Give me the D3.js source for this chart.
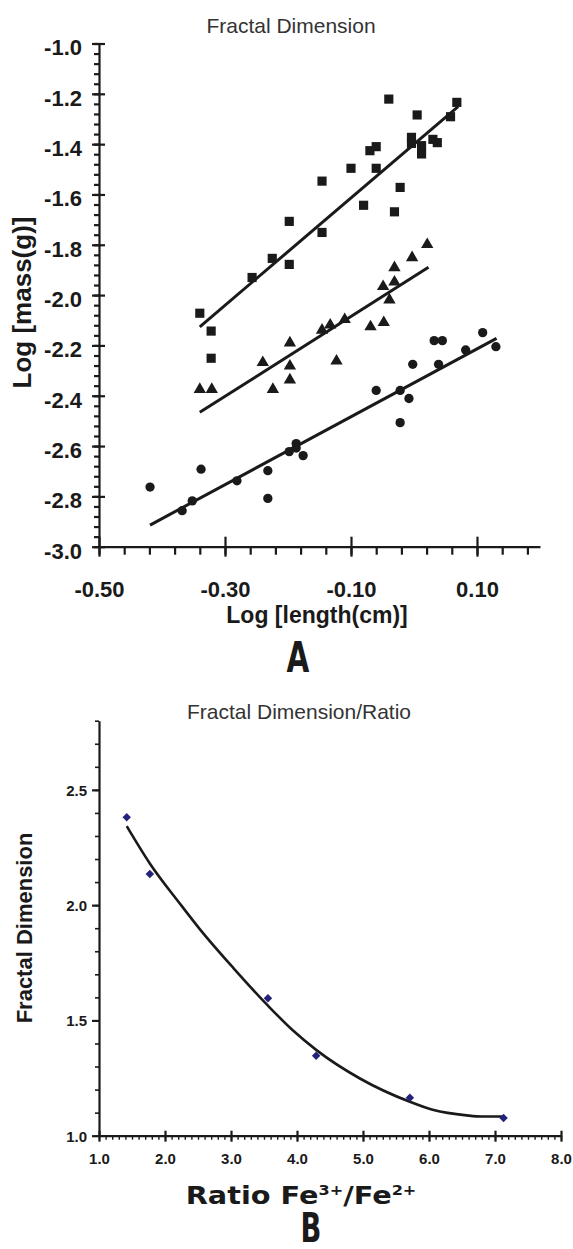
<!DOCTYPE html>
<html>
<head>
<meta charset="utf-8">
<script src="https://cdn.jsdelivr.net/npm/d3@7"></script>
<style>
  body { margin: 0; background: #fff; }
  text { font-family: "Liberation Sans", Arial, sans-serif; }
</style>
</head>
<body>
<script>
// ---- panel A data: log length (cm) vs log mass (g)
const sqX = [-0.040, 0.005, 0.068, 0.058, -0.004, -0.004, 0.012, 0.012, 0.030, 0.037,
             -0.070, -0.060, -0.100, -0.060, -0.146, -0.022, -0.080, -0.031, -0.198, -0.146,
             -0.225, -0.198, -0.257, -0.340, -0.322, -0.322];
const sqY = [-1.221, -1.284, -1.234, -1.291, -1.373, -1.397, -1.406, -1.439, -1.381, -1.394,
             -1.426, -1.410, -1.496, -1.496, -1.547, -1.572, -1.643, -1.669, -1.707, -1.751,
             -1.854, -1.878, -1.930, -2.072, -2.143, -2.251];

const triX = [0.021, -0.003, -0.031, -0.049, -0.031, -0.039, -0.069, -0.048, -0.110, -0.133,
              -0.146, -0.197, -0.240, -0.197, -0.123, -0.197, -0.224, -0.340, -0.321];
const triY = [-1.799, -1.851, -1.891, -1.966, -1.948, -2.019, -2.126, -2.109, -2.097, -2.119,
              -2.139, -2.190, -2.268, -2.282, -2.262, -2.337, -2.375, -2.375, -2.375];

const cirX = [0.109, 0.130, 0.082, 0.032, 0.045, 0.039, -0.002, -0.060, -0.022, -0.008,
              -0.022, -0.187, -0.187, -0.198, -0.176, -0.232, -0.232, -0.281, -0.338, -0.419,
              -0.352, -0.368];
const cirY = [-2.149, -2.205, -2.218, -2.181, -2.181, -2.275, -2.275, -2.379, -2.379, -2.411,
              -2.507, -2.590, -2.608, -2.622, -2.638, -2.698, -2.808, -2.738, -2.692, -2.763,
              -2.818, -2.857];

// fitted lines, end points
const sqFitX = [-0.340, 0.070], sqFitY = [-2.126, -1.251];
const triFitX = [-0.340, 0.023], triFitY = [-2.466, -1.889];
const cirFitX = [-0.419, 0.131], cirFitY = [-2.914, -2.172];

const xTicksA = [-0.50, -0.30, -0.10, 0.10];
const yTicksA = [-1.0, -1.2, -1.4, -1.6, -1.8, -2.0, -2.2, -2.4, -2.6, -2.8, -3.0];

// ---- panel B data: Fe3+/Fe2+ ratio vs fractal dimension
const ratio = [1.42, 1.77, 3.56, 4.29, 5.71, 7.13];
const fracDim = [2.381, 2.135, 1.596, 1.347, 1.165, 1.077];
const trendX = [1.42, 1.77, 2.23, 2.53, 3.04, 3.56, 3.94, 4.30, 4.96, 5.71, 6.07, 6.57, 6.80, 7.13];
const trendY = [2.343, 2.181, 2.005, 1.895, 1.726, 1.564, 1.456, 1.370, 1.247, 1.147, 1.111, 1.088, 1.083, 1.083];

const xTicksB = [1, 2, 3, 4, 5, 6, 7, 8];
const yTicksB = [1.0, 1.5, 2.0, 2.5];

const w = 573, h = 1249;
const ink = "#1a1a1a";
// plain hyphen instead of the unicode minus d3 uses
const fmt = p => d => d3.format(p)(d).replace("\u2212", "-");

const svg = d3.select("body")
              .append("svg")
              .attr("width", w)
              .attr("height", h)
              .style("background", "#fff");

// ================= panel A =================
const xA = d3.scaleLinear().domain([-0.5, 0.2]).range([99, 540]);
const yA = d3.scaleLinear().domain([-3.0, -1.0]).range([546.7, 43.5]);

// minor ticks first, majors on top
svg.append("g")
   .attr("transform", "translate(" + xA(-0.5) + ",0)")
   .call(d3.axisLeft(yA).tickValues(d3.range(0, 51).map(i => -3 + i * 0.04)).tickSize(5).tickFormat(""))
   .call(g => g.select(".domain").remove());

const yAxisA = svg.append("g")
   .attr("transform", "translate(" + xA(-0.5) + ",0)")
   .call(d3.axisLeft(yA).tickValues(yTicksA).tickSize(7).tickSizeOuter(0).tickFormat(fmt(".1f")));
yAxisA.selectAll(".tick line").attr("x2", -7).attr("x1", 6);
yAxisA.selectAll(".tick text")
      .attr("x", -17)
      .attr("dy", "0.52em")
      .style("font-size", "22px")
      .style("font-weight", "bold");

svg.append("g")
   .attr("transform", "translate(0," + yA(-3.0) + ")")
   .call(d3.axisBottom(xA).tickValues(d3.range(0, 18).map(i => -0.5 + i * 0.04)).tickSize(8).tickFormat(""))
   .call(g => g.select(".domain").remove());

const xAxisA = svg.append("g")
   .attr("transform", "translate(0," + yA(-3.0) + ")")
   .call(d3.axisBottom(xA).tickValues(xTicksA).tickSize(10).tickSizeOuter(0).tickFormat(fmt(".2f")));
xAxisA.selectAll(".tick line").attr("y1", -10);
xAxisA.selectAll(".tick text")
      .attr("y", 50)
      .attr("dy", null)
      .style("font-size", "22px")
      .style("font-weight", "bold");

svg.selectAll(".domain, .tick line").attr("stroke", ink).attr("stroke-width", 2.2);
svg.selectAll(".tick text").attr("fill", ink).style("font-family", "Liberation Sans, Arial, sans-serif");

// fit lines
const lineA = d3.line().x(d => xA(d[0])).y(d => yA(d[1]));
[[sqFitX, sqFitY], [triFitX, triFitY], [cirFitX, cirFitY]].forEach(f => {
  svg.append("path")
     .datum(d3.zip(f[0], f[1]))
     .attr("d", lineA)
     .attr("fill", "none")
     .attr("stroke", ink)
     .attr("stroke-width", 3);
});

// markers
const series = [
  { x: sqX, y: sqY, type: d3.symbolSquare, size: 84 },
  { x: triX, y: triY, type: d3.symbolTriangle, size: 66 },
  { x: cirX, y: cirY, type: d3.symbolCircle, size: 68 }
];
series.forEach(s => {
  svg.append("g")
     .selectAll("path")
     .data(d3.zip(s.x, s.y))
     .enter()
     .append("path")
     .attr("d", d3.symbol().type(s.type).size(s.size))
     .attr("transform", d => "translate(" + xA(d[0]) + "," + yA(d[1]) + ")")
     .attr("fill", ink);
});

svg.append("text")
   .attr("x", 291)
   .attr("y", 33)
   .attr("text-anchor", "middle")
   .style("font-size", "21px")
   .attr("fill", "#333")
   .text("Fractal Dimension");

svg.append("text")
   .attr("transform", "translate(31,302.5) rotate(-90)")
   .attr("text-anchor", "middle")
   .style("font-size", "26px")
   .style("font-weight", "bold")
   .attr("fill", ink)
   .text("Log [mass(g)]");

svg.append("text")
   .attr("x", 317)
   .attr("y", 623)
   .attr("text-anchor", "middle")
   .style("font-size", "23px")
   .style("font-weight", "bold")
   .attr("fill", ink)
   .text("Log [length(cm)]");

svg.append("text")
   .attr("transform", "translate(298,672) scale(0.78,1)")
   .attr("text-anchor", "middle")
   .style("font-family", "'Liberation Sans Narrow', 'DejaVu Sans Condensed', sans-serif")
   .style("font-size", "42px")
   .style("font-weight", "bold")
   .attr("fill", ink)
   .text("A");

// ================= panel B =================
const xB = d3.scaleLinear().domain([1, 8]).range([99, 561]);
const yB = d3.scaleLinear().domain([1.0, 2.8]).range([1135.7, 720.7]);

svg.append("g")
   .attr("transform", "translate(" + xB(1) + ",0)")
   .call(d3.axisLeft(yB).tickValues(d3.range(0, 19).map(i => 1 + i * 0.1)).tickSize(4).tickFormat(""))
   .call(g => g.select(".domain").remove())
   .call(g => g.selectAll("line").attr("stroke", ink).attr("stroke-width", 1.6));

const yAxisB = svg.append("g")
   .attr("transform", "translate(" + xB(1) + ",0)")
   .call(d3.axisLeft(yB).tickValues(yTicksB).tickSize(7).tickSizeOuter(0).tickFormat(fmt(".1f")));
yAxisB.selectAll(".tick text")
      .attr("x", -12)
      .attr("dy", "0.36em")
      .style("font-size", "15px")
      .style("font-weight", "bold");

svg.append("g")
   .attr("transform", "translate(0," + yB(1.0) + ")")
   .call(d3.axisBottom(xB).tickValues(d3.range(0, 71).map(i => 1 + i * 0.1)).tickSize(4).tickFormat(""))
   .call(g => g.select(".domain").remove())
   .call(g => g.selectAll("line").attr("stroke", ink).attr("stroke-width", 1.4));

const xAxisB = svg.append("g")
   .attr("transform", "translate(0," + yB(1.0) + ")")
   .call(d3.axisBottom(xB).tickValues(xTicksB).tickSize(6).tickSizeOuter(0).tickFormat(fmt(".1f")));
xAxisB.selectAll(".tick line").attr("y1", -5);
xAxisB.selectAll(".tick text")
      .attr("y", 18)
      .style("font-size", "15px")
      .style("font-weight", "bold");

[yAxisB, xAxisB].forEach(a => {
  a.selectAll(".domain, .tick line").attr("stroke", ink).attr("stroke-width", 2.2);
  a.selectAll(".tick text").attr("fill", ink).style("font-family", "Liberation Sans, Arial, sans-serif");
});

svg.append("path")
   .datum(d3.zip(trendX, trendY))
   .attr("d", d3.line().x(d => xB(d[0])).y(d => yB(d[1])).curve(d3.curveMonotoneX))
   .attr("fill", "none")
   .attr("stroke", ink)
   .attr("stroke-width", 2.6);

svg.append("g")
   .selectAll("path")
   .data(d3.zip(ratio, fracDim))
   .enter()
   .append("path")
   .attr("d", d3.symbol().type(d3.symbolSquare).size(36))
   .attr("transform", d => "translate(" + xB(d[0]) + "," + yB(d[1]) + ") rotate(45)")
   .attr("fill", "#23237c");

svg.append("text")
   .attr("x", 299)
   .attr("y", 719)
   .attr("text-anchor", "middle")
   .style("font-size", "21px")
   .attr("fill", "#333")
   .text("Fractal Dimension/Ratio");

svg.append("text")
   .attr("transform", "translate(31.5,928) rotate(-90)")
   .attr("text-anchor", "middle")
   .style("font-size", "22px")
   .style("font-weight", "bold")
   .attr("fill", ink)
   .text("Fractal Dimension");

const ratioTitle = svg.append("text")
   .attr("transform", "translate(301,1204) scale(1.15,1)")
   .attr("text-anchor", "middle")
   .style("font-family", "'DejaVu Sans', sans-serif")
   .style("font-size", "25px")
   .style("font-weight", "bold")
   .attr("fill", ink);
ratioTitle.append("tspan").text("Ratio Fe");
ratioTitle.append("tspan").attr("dy", -9).style("font-size", "14px").text("3+");
ratioTitle.append("tspan").attr("dy", 9).text("/Fe");
ratioTitle.append("tspan").attr("dy", -9).style("font-size", "14px").text("2+");

svg.append("text")
   .attr("transform", "translate(311,1242) scale(0.8,1.08)")
   .attr("text-anchor", "middle")
   .style("font-family", "'Liberation Sans Narrow', 'DejaVu Sans Condensed', sans-serif")
   .style("font-size", "38px")
   .style("font-weight", "bold")
   .attr("fill", ink)
   .text("B");
</script>
</body>
</html>
